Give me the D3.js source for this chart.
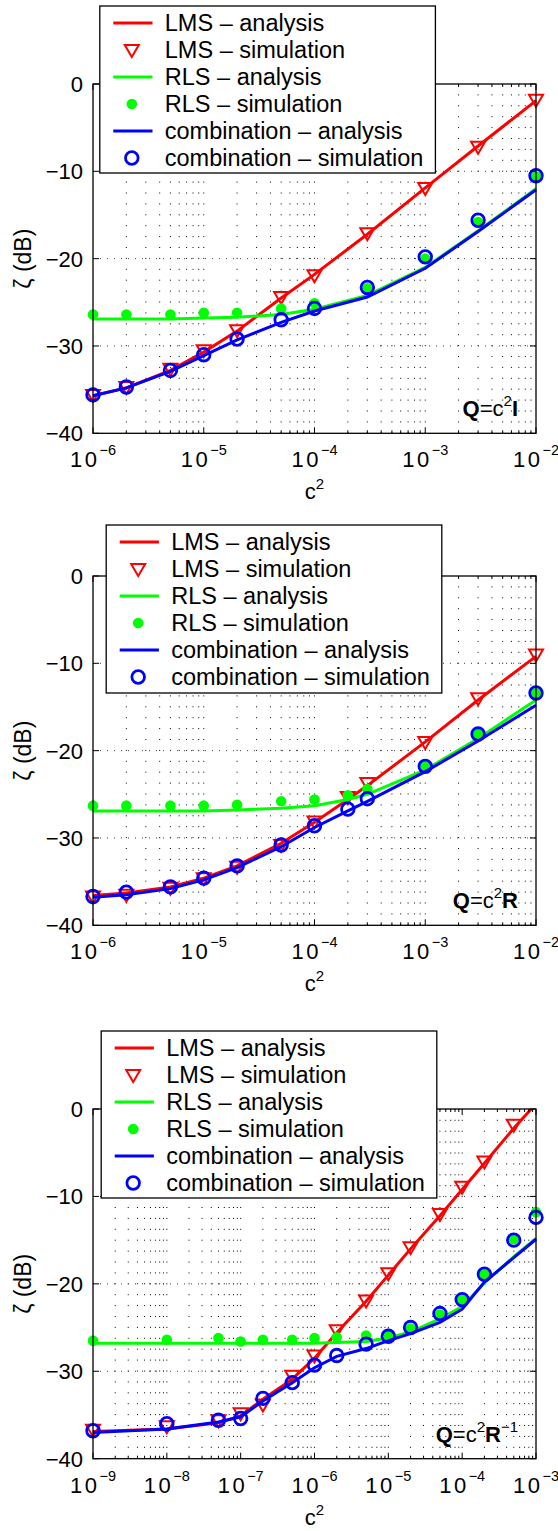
<!DOCTYPE html>
<html>
<head>
<meta charset="utf-8">
<script src="https://cdn.jsdelivr.net/npm/d3@7"></script>
<style>
  body { margin: 0; background: #fff; }
  text { font-family: "Liberation Sans", Arial, Helvetica, sans-serif; fill: #000; }
</style>
</head>
<body>
<svg id="chart" width="558" height="1531"></svg>
<script>
// ---- data (dB values) ----
const yTicks = [0, -10, -20, -30, -40];

// panel 1: Q = c^2 I
const xExpP1 = [-6, -5, -4, -3, -2];
const xP1 = [1e-6, 2e-6, 5e-6, 1e-5, 2e-5, 5e-5, 1e-4, 3e-4, 1e-3, 3e-3, 1e-2];
const lmsAnaP1 = [-35.7, -34.8, -32.8, -30.7, -28.3, -24.5, -21.8, -17.2, -11.9, -7.1, -1.9];
const lmsSimP1 = [-35.6, -34.7, -32.6, -30.5, -28.2, -24.4, -21.9, -17.1, -11.9, -7.2, -1.8];
const rlsAnaP1 = [-26.9, -26.9, -26.9, -26.8, -26.7, -26.4, -25.8, -24.2, -21.0, -16.8, -12.0];
const rlsSimP1 = [-26.4, -26.4, -26.4, -26.2, -26.2, -25.7, -25.1, -23.4, -20.0, -15.8, -10.6];
const combAnaP1 = [-35.7, -34.8, -32.9, -31.1, -29.3, -27.3, -26.0, -24.4, -21.1, -16.9, -12.1];
const combSimP1 = [-35.6, -34.7, -32.8, -31.0, -29.2, -27.0, -25.7, -23.3, -19.8, -15.6, -10.5];

// panel 2: Q = c^2 R
const xExpP2 = [-6, -5, -4, -3, -2];
const xP2 = [1e-6, 2e-6, 5e-6, 1e-5, 2e-5, 5e-5, 1e-4, 2e-4, 3e-4, 1e-3, 3e-3, 1e-2];
const lmsAnaP2 = [-36.6, -36.3, -35.6, -34.6, -33.2, -30.6, -28.2, -25.6, -24.0, -19.0, -14.2, -9.2];
const lmsSimP2 = [-36.7, -36.5, -35.7, -34.6, -33.3, -30.8, -28.1, -25.3, -23.7, -19.0, -14.0, -9.0];
const rlsAnaP2 = [-26.9, -26.9, -26.9, -26.9, -26.8, -26.6, -26.3, -25.6, -25.0, -22.2, -18.6, -14.2];
const rlsSimP2 = [-26.3, -26.3, -26.3, -26.3, -26.2, -25.8, -25.6, -25.1, -24.4, -21.8, -18.1, -13.4];
const combAnaP2 = [-36.8, -36.5, -35.8, -34.8, -33.4, -31.0, -28.8, -26.9, -25.8, -22.4, -18.9, -14.8];
const combSimP2 = [-36.7, -36.2, -35.6, -34.6, -33.2, -30.8, -28.6, -26.7, -25.5, -21.8, -18.1, -13.4];

// panel 3: Q = c^2 R^-1
const xExpP3 = [-9, -8, -7, -6, -5, -4, -3];
const xP3 = [1e-9, 1e-8, 5e-8, 1e-7, 2e-7, 5e-7, 1e-6, 2e-6, 5e-6, 1e-5, 2e-5, 5e-5, 1e-4, 2e-4, 5e-4, 1e-3];
const lmsAnaP3 = [-36.9, -36.6, -35.9, -35.1, -33.2, -30.9, -28.5, -25.6, -22.0, -19.0, -16.0, -12.2, -9.2, -6.2, -2.2, 0.6];
const lmsSimP3 = [-36.7, -36.3, -35.6, -34.8, -33.8, -30.5, -28.2, -25.3, -21.9, -18.8, -15.8, -12.0, -8.9, -6.0, -1.8, null];
const rlsAnaP3 = [-26.8, -26.8, -26.8, -26.8, -26.8, -26.8, -26.8, -26.7, -26.6, -26.2, -25.5, -24.0, -22.6, -19.9, -16.9, -14.8];
const rlsSimP3 = [-26.5, -26.4, -26.2, -26.6, -26.4, -26.4, -26.2, -26.1, -25.9, -25.7, -25.1, -23.5, -21.8, -18.9, -14.9, -11.8];
const combAnaP3 = [-37.0, -36.6, -35.8, -35.2, -33.4, -31.3, -29.6, -28.3, -27.4, -26.5, -25.7, -24.4, -22.9, -19.8, -17.0, -14.9];
const combSimP3 = [-36.8, -36.0, -35.6, -35.4, -33.1, -31.3, -29.3, -28.2, -26.9, -26.0, -25.0, -23.4, -21.8, -18.9, -15.0, -12.4];

const legendLabels = ["LMS \u2013 analysis", "LMS \u2013 simulation", "RLS \u2013 analysis",
  "RLS \u2013 simulation", "combination \u2013 analysis", "combination \u2013 simulation"];

const RED = "#ff0000", GREEN = "#00ff00", BLUE = "#0000ff";

const svg = d3.select("#chart");
const defs = svg.append("defs");

const triPath = "M-7,-5L7,-5L0,7Z";

const panels = [
  { id: 1, top: 84, bottom: 433.3, exps: xExpP1, x: xP1,
    lmsA: lmsAnaP1, lmsS: lmsSimP1, rlsA: rlsAnaP1, rlsS: rlsSimP1, cA: combAnaP1, cS: combSimP1,
    legend: { x: 99.8, y: 6, h: 167 }, note: "I", noteSup: null },
  { id: 2, top: 576, bottom: 925.3, exps: xExpP2, x: xP2,
    lmsA: lmsAnaP2, lmsS: lmsSimP2, rlsA: rlsAnaP2, rlsS: rlsSimP2, cA: combAnaP2, cS: combSimP2,
    legend: { x: 106.2, y: 525, h: 168 }, note: "R", noteSup: null },
  { id: 3, top: 1109, bottom: 1458.7, exps: xExpP3, x: xP3,
    lmsA: lmsAnaP3, lmsS: lmsSimP3, rlsA: rlsAnaP3, rlsS: rlsSimP3, cA: combAnaP3, cS: combSimP3,
    legend: { x: 101.2, y: 1031, h: 167 }, note: "R", noteSup: "\u22121" }
];

const left = 93, right = 536;

panels.forEach(p => drawPanel(p));

function drawPanel(p) {
  const x = d3.scaleLog()
    .domain([Math.pow(10, p.exps[0]), Math.pow(10, p.exps[p.exps.length - 1])])
    .range([left, right]);
  const y = d3.scaleLinear().domain([-40, 0]).range([p.bottom, p.top]);
  const g = svg.append("g");

  // minor / major x positions
  const majors = p.exps.map(e => Math.pow(10, e));
  const minors = [];
  p.exps.slice(0, -1).forEach(e => {
    for (let k = 2; k <= 9; k++) minors.push(k * Math.pow(10, e));
  });

  // grid
  g.selectAll(".vgrid")
    .data(majors.slice(1, -1).concat(minors))
    .enter().append("line")
      .attr("x1", d => x(d)).attr("x2", d => x(d))
      .attr("y1", p.bottom).attr("y2", p.top)
      .attr("stroke", "#000")
      .attr("stroke-width", 1)
      .attr("stroke-dasharray", "1,9.9");
  g.selectAll(".hgrid")
    .data(yTicks.slice(1, -1))
    .enter().append("line")
      .attr("x1", left).attr("x2", right)
      .attr("y1", d => y(d)).attr("y2", d => y(d))
      .attr("stroke", "#444")
      .attr("stroke-width", 1)
      .attr("stroke-dasharray", "1,6");

  // clip for data
  const clipId = "clip" + p.id;
  defs.append("clipPath").attr("id", clipId)
    .append("rect")
      .attr("x", left - 10).attr("y", p.top)
      .attr("width", right - left + 20).attr("height", p.bottom - p.top + 10);

  const data = g.append("g").attr("clip-path", `url(#${clipId})`);
  const line = vals => d3.line()
    .defined((d, i) => vals[i] != null)
    .x((d, i) => x(p.x[i]))
    .y((d, i) => y(vals[i]))(vals);
  const pts = vals => p.x.map((xv, i) => ({ x: xv, y: vals[i] })).filter(d => d.y != null);

  // LMS
  data.append("path").attr("d", line(p.lmsA))
    .attr("fill", "none").attr("stroke", RED).attr("stroke-width", 3);
  data.selectAll(".tri").data(pts(p.lmsS)).enter().append("path")
    .attr("d", triPath)
    .attr("transform", d => `translate(${x(d.x)},${y(d.y)})`)
    .attr("fill", "none").attr("stroke", RED).attr("stroke-width", 2);
  // RLS
  data.append("path").attr("d", line(p.rlsA))
    .attr("fill", "none").attr("stroke", GREEN).attr("stroke-width", 3);
  data.selectAll(".dot").data(pts(p.rlsS)).enter().append("circle")
    .attr("cx", d => x(d.x)).attr("cy", d => y(d.y)).attr("r", 5.3)
    .attr("fill", GREEN);
  // combination
  data.append("path").attr("d", line(p.cA))
    .attr("fill", "none").attr("stroke", BLUE).attr("stroke-width", 3);
  data.selectAll(".circ").data(pts(p.cS)).enter().append("circle")
    .attr("cx", d => x(d.x)).attr("cy", d => y(d.y)).attr("r", 6.3)
    .attr("fill", "none").attr("stroke", BLUE).attr("stroke-width", 2.8);

  // frame
  g.append("rect")
    .attr("x", left).attr("y", p.top)
    .attr("width", right - left).attr("height", p.bottom - p.top)
    .attr("fill", "none").attr("stroke", "#000").attr("stroke-width", 1.3);

  // x ticks (in, bottom and top)
  [[majors, 6], [minors, 3]].forEach(([vals, len]) => {
    vals.forEach(v => {
      g.append("line").attr("x1", x(v)).attr("x2", x(v))
        .attr("y1", p.bottom).attr("y2", p.bottom - len)
        .attr("stroke", "#000").attr("stroke-width", 1);
      g.append("line").attr("x1", x(v)).attr("x2", x(v))
        .attr("y1", p.top).attr("y2", p.top + len)
        .attr("stroke", "#000").attr("stroke-width", 1);
    });
  });
  // y ticks
  yTicks.forEach(v => {
    g.append("line").attr("x1", left).attr("x2", left + 6)
      .attr("y1", y(v)).attr("y2", y(v)).attr("stroke", "#000");
    g.append("line").attr("x1", right).attr("x2", right - 6)
      .attr("y1", y(v)).attr("y2", y(v)).attr("stroke", "#000");
  });

  // x tick labels 10^e
  p.exps.forEach(e => {
    const t = g.append("text")
      .attr("x", x(Math.pow(10, e)))
      .attr("y", p.bottom + 34)
      .attr("text-anchor", "middle")
      .style("font-size", "22px");
    t.append("tspan").style("letter-spacing", "2.5px").text("10");
    t.append("tspan").attr("dy", -12).style("font-size", "14.5px").text("\u2212" + Math.abs(e));
  });

  // y tick labels
  yTicks.forEach(v => {
    g.append("text")
      .attr("x", 83).attr("y", y(v) + 8)
      .attr("text-anchor", "end")
      .style("font-size", "22px")
      .text(v === 0 ? "0" : "\u2212" + Math.abs(v));
  });

  // axis labels
  const xl = g.append("text")
    .attr("x", (left + right) / 2).attr("y", p.bottom + 66)
    .attr("text-anchor", "middle").style("font-size", "22px");
  xl.append("tspan").text("c");
  xl.append("tspan").attr("dy", -10).style("font-size", "15px").text("2");

  g.append("text")
    .attr("transform", `translate(31,${(p.top + p.bottom) / 2}) rotate(-90)`)
    .attr("text-anchor", "middle").style("font-size", "23px")
    .text("\u03b6 (dB)");

  // annotation
  const nt = g.append("text")
    .attr("x", 518).attr("y", p.bottom - 17)
    .attr("text-anchor", "end").style("font-size", "22px");
  nt.append("tspan").style("font-weight", "bold").text("Q");
  nt.append("tspan").text("=c");
  nt.append("tspan").attr("dy", -10).style("font-size", "15px").text("2");
  nt.append("tspan").attr("dy", 10).style("font-weight", "bold").text(p.note);
  if (p.noteSup) {
    nt.append("tspan").attr("dy", -10).style("font-size", "15px").text(p.noteSup);
  }

  // legend
  const lg = g.append("g").attr("transform", `translate(${p.legend.x},${p.legend.y})`);
  lg.append("rect").attr("width", 335.6).attr("height", p.legend.h)
    .attr("fill", "#fff").attr("stroke", "#000").attr("stroke-width", 1.3);
  const styles = [
    { c: RED, k: "line" }, { c: RED, k: "tri" }, { c: GREEN, k: "line" },
    { c: GREEN, k: "dot" }, { c: BLUE, k: "line" }, { c: BLUE, k: "circ" }
  ];
  legendLabels.forEach((lab, i) => {
    const cy = 17 + i * 27;
    const s = styles[i];
    if (s.k === "line") {
      lg.append("line").attr("x1", 13.5).attr("x2", 52.7).attr("y1", cy).attr("y2", cy)
        .attr("stroke", s.c).attr("stroke-width", 3);
    } else if (s.k === "tri") {
      lg.append("path").attr("d", triPath).attr("transform", `translate(32,${cy})`)
        .attr("fill", "none").attr("stroke", s.c).attr("stroke-width", 2);
    } else if (s.k === "dot") {
      lg.append("circle").attr("cx", 32).attr("cy", cy).attr("r", 5.3).attr("fill", s.c);
    } else {
      lg.append("circle").attr("cx", 32).attr("cy", cy).attr("r", 6.3)
        .attr("fill", "none").attr("stroke", s.c).attr("stroke-width", 2.8);
    }
    lg.append("text").attr("x", 65).attr("y", cy + 8)
      .style("font-size", "23.5px").text(lab);
  });
}
</script>
</body>
</html>
